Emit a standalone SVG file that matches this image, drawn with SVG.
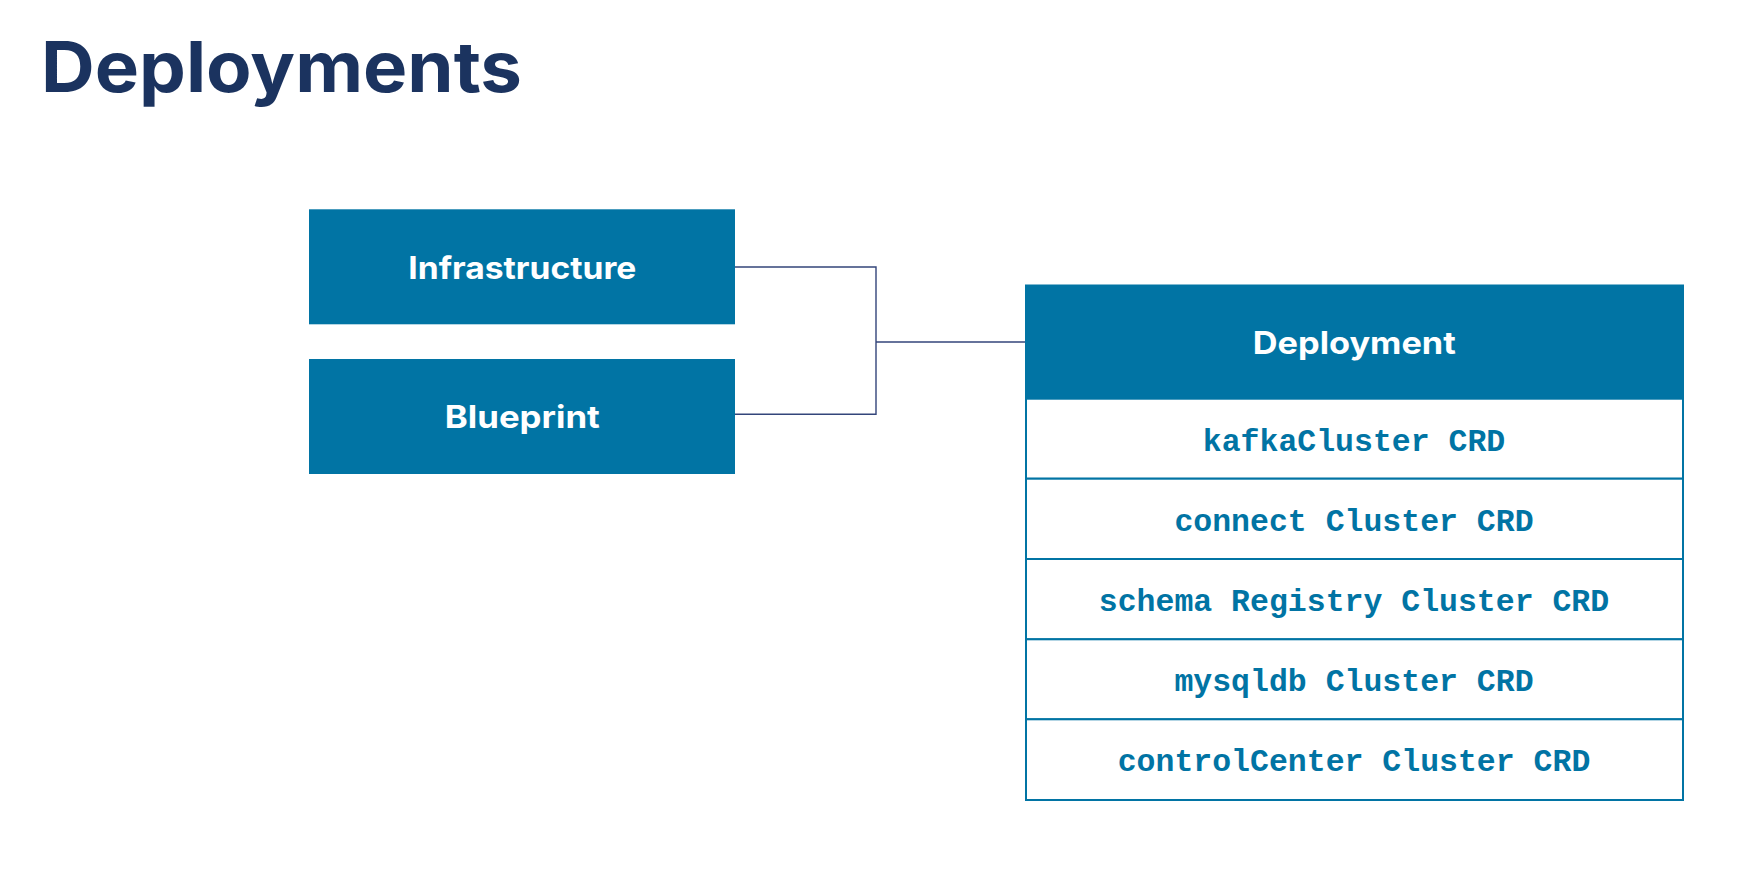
<svg xmlns="http://www.w3.org/2000/svg" width="1750" height="870" viewBox="0 0 1750 870">
  <style>
    .title { font-family: Inter, "Liberation Sans", sans-serif; font-weight: 700; font-size: 70px; fill: #1b335f; }
    .hdr { fill: #0174a4; }
    .hlabel { font-family: Inter, "Liberation Sans", sans-serif; font-weight: 700; font-size: 31px; fill: #ffffff; text-anchor: middle; }
    .row { fill: #ffffff; stroke: #0174a4; stroke-width: 2; }
    .mono { font-family: "Liberation Mono", "DejaVu Sans Mono", monospace; font-weight: 700; font-size: 31.5px; fill: #0174a4; text-anchor: middle; }
    .conn { fill: none; stroke: #33457a; stroke-width: 1.4; }
  </style>
  <rect width="1750" height="870" fill="#ffffff"/>
  <text class="title" x="41" y="91.7" textLength="481" lengthAdjust="spacingAndGlyphs">Deployments</text>

  <g id="connectors">
    <path class="conn" d="M735 267 H876 V414.3 H735"/>
    <path class="conn" d="M876 342 H1025"/>
  </g>

  <g id="infrastructure">
    <rect class="hdr" x="309" y="209.3" width="426" height="115"/>
    <text class="hlabel" x="522.3" y="279" textLength="228" lengthAdjust="spacingAndGlyphs">Infrastructure</text>
  </g>

  <g id="blueprint">
    <rect class="hdr" x="309" y="359" width="426" height="115"/>
    <text class="hlabel" x="522.3" y="428.3" textLength="155" lengthAdjust="spacingAndGlyphs">Blueprint</text>
  </g>

  <g id="deployment">
    <rect class="row" x="1026" y="398.7" width="657" height="80"/>
    <rect class="row" x="1026" y="478.7" width="657" height="80.3"/>
    <rect class="row" x="1026" y="559" width="657" height="80.3"/>
    <rect class="row" x="1026" y="639.3" width="657" height="80"/>
    <rect class="row" x="1026" y="719.3" width="657" height="80.7"/>
    <rect class="hdr" x="1025" y="284.5" width="659" height="114.5"/>
    <text class="hlabel" x="1354.3" y="354.3" textLength="203" lengthAdjust="spacingAndGlyphs">Deployment</text>
    <text class="mono" x="1354" y="450.5">kafkaCluster CRD</text>
    <text class="mono" x="1354" y="530.7">connect Cluster CRD</text>
    <text class="mono" x="1354" y="611">schema Registry Cluster CRD</text>
    <text class="mono" x="1354" y="691">mysqldb Cluster CRD</text>
    <text class="mono" x="1354" y="771.2">controlCenter Cluster CRD</text>
  </g>
</svg>
